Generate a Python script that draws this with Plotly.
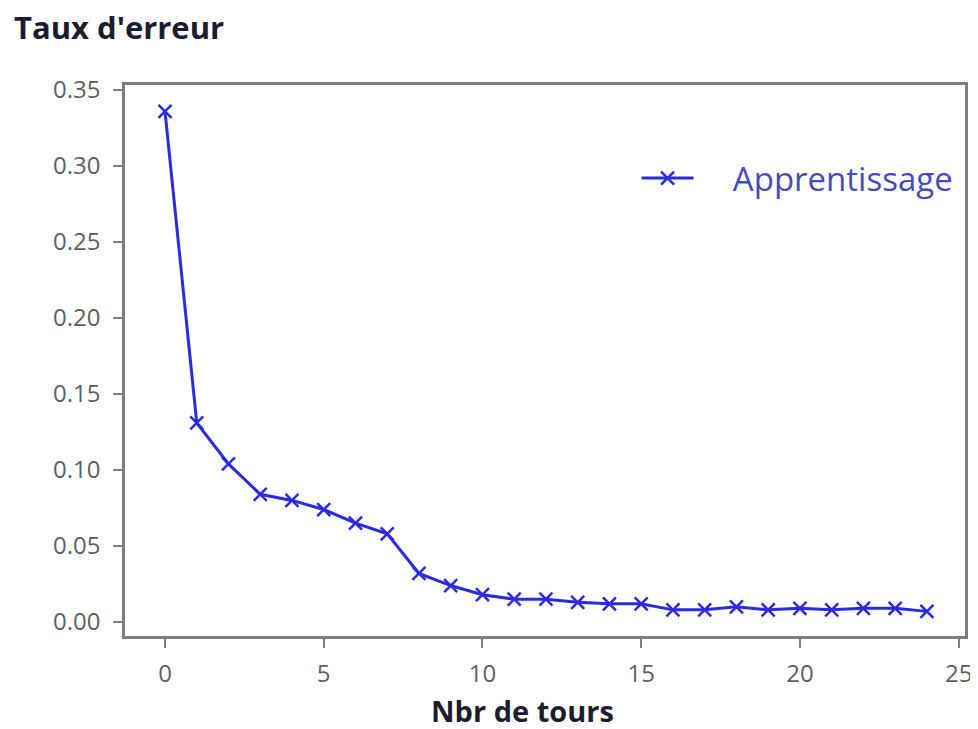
import plotly.graph_objects as go

tours = list(range(25))
taux_erreur = [0.336, 0.131, 0.104, 0.084, 0.080, 0.074, 0.065, 0.058, 0.032, 0.024,
               0.018, 0.015, 0.015, 0.013, 0.012, 0.012, 0.008, 0.008, 0.010, 0.008,
               0.009, 0.008, 0.009, 0.009, 0.007]
x_ticks = [0, 5, 10, 15, 20, 25]
y_ticks = [0.00, 0.05, 0.10, 0.15, 0.20, 0.25, 0.30, 0.35]
y_tick_labels = ["0.00", "0.05", "0.10", "0.15", "0.20", "0.25", "0.30", "0.35"]
series_name = "Apprentissage"
y_title = "Taux d'erreur"
x_title = "Nbr de tours"

blue = "rgb(42,42,222)"
grey = "rgb(125,125,125)"
tickgrey = "rgb(95,95,95)"
dark = "rgb(28,28,48)"

fig = go.Figure()
fig.add_trace(go.Scatter(
    x=tours, y=taux_erreur, mode="lines+markers", name="\u00a0" * 4 + series_name,
    line=dict(color=blue, width=3),
    marker=dict(symbol="x-thin", size=13, line=dict(color=blue, width=2.5), color=blue),
))

# the page body adds an 8px margin; plot area spans page x 125..965, y 85..636
W, H = 970, 721
L, R, T, B = 117, 13, 77, 93
plot_w = W - L - R
plot_h = H - T - B

def px_x(page_x):
    return (page_x - 8 - L) / plot_w

def px_y(page_y):
    return (H - B - (page_y - 8)) / plot_h

fig.update_layout(
    width=W, height=H,
    margin=dict(l=L, r=R, t=T, b=B, autoexpand=False),
    paper_bgcolor="white", plot_bgcolor="white",
    font=dict(family="Open Sans, Liberation Sans, sans-serif", color=tickgrey, size=24),
    showlegend=True,
    legend=dict(x=0.609, y=0.831, xanchor="left", yanchor="middle",
                itemwidth=52,
                bgcolor="rgba(255,255,255,0)", bordercolor="rgba(255,255,255,0)", borderwidth=0,
                font=dict(size=33, color="rgb(72,76,182)")),
    xaxis=dict(range=[-1.26, 25.2], tickvals=x_ticks, showgrid=False, zeroline=False,
               automargin=False,
               showline=True, linecolor=grey, linewidth=2.5, mirror=True,
               ticks="outside", ticklen=9, tickcolor=grey, tickwidth=2,
               ticklabelstandoff=5,
               tickfont=dict(size=24, color=tickgrey)),
    yaxis=dict(range=[-0.0092, 0.3533], tickvals=y_ticks, ticktext=y_tick_labels,
               showgrid=False, zeroline=False, automargin=False,
               showline=True, linecolor=grey, linewidth=2.5, mirror=True,
               ticks="outside", ticklen=9, tickcolor=grey, tickwidth=2,
               ticklabelstandoff=8,
               tickfont=dict(size=24, color=tickgrey)),
    annotations=[
        dict(text="<b>" + y_title + "</b>", xref="paper", yref="paper",
             x=px_x(12), y=px_y(27), xanchor="left", yanchor="middle",
             showarrow=False, font=dict(size=31, color=dark)),
        dict(text="<b>" + x_title + "</b>", xref="paper", yref="paper",
             x=px_x(522), y=px_y(710), xanchor="center", yanchor="middle",
             showarrow=False, font=dict(size=29, color=dark)),
    ],
)

fig.write_html("out.html")
